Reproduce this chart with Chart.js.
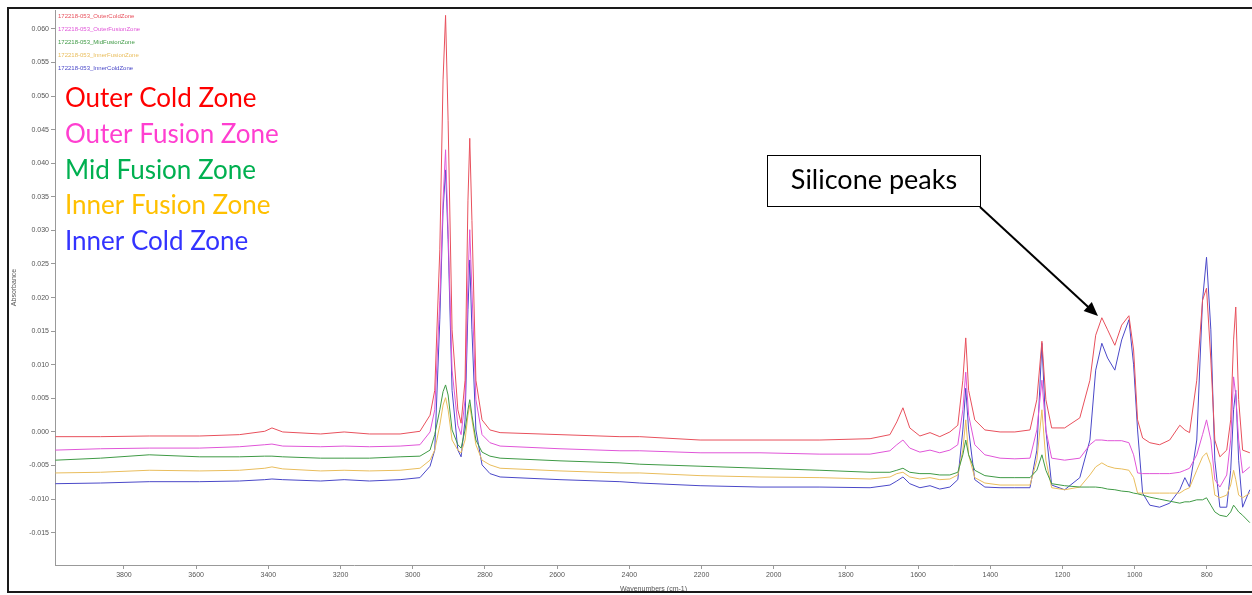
<!DOCTYPE html>
<html>
<head>
<meta charset="utf-8">
<title>FTIR spectra</title>
<script src="https://cdn.jsdelivr.net/npm/chart.js@4.4.0/dist/chart.umd.min.js"></script>
<style>
  html, body { margin: 0; padding: 0; background: #fff; }
  #wrap { width: 1252px; height: 595px; position: relative; }
</style>
</head>
<body>
<div id="wrap"><canvas id="chartFtir"></canvas></div>
<script>
// wavenumbers (cm-1), shared by all five spectra
const wavenumbers = [3990, 3865, 3730, 3590, 3480, 3410, 3390, 3360, 3255, 3190, 3120, 3035, 2980, 2952, 2939, 2925, 2916, 2909, 2902, 2891,
  2875, 2866, 2855, 2847, 2842, 2836, 2825, 2808, 2786, 2758, 2592, 2426, 2371, 2204, 2038, 1872, 1733, 1678, 1659, 1642,
  1623, 1595, 1567, 1540, 1512, 1490, 1476, 1468, 1460, 1443, 1415, 1373, 1332, 1290, 1271, 1257, 1246, 1230, 1194, 1152,
  1124, 1108, 1091, 1075, 1055, 1036, 1016, 1003, 992, 978, 958, 931, 903, 875, 861, 848, 828, 812, 801, 789,
  778, 764, 745, 734, 726, 720, 712, 701, 681];

const outerCold = [-0.0007, -0.0007, -0.0006, -0.0006, -0.0004, 0.0001, 0.0006, 0.0000, -0.0003, 0.0000, -0.0003, -0.0003, 0.0001, 0.0025, 0.0062, 0.0271, 0.0524, 0.0620, 0.0464, 0.0152,
  0.0033, 0.0013, 0.0077, 0.0345, 0.0437, 0.0315, 0.0077, 0.0018, 0.0003, -0.0001, -0.0004, -0.0007, -0.0007, -0.0012, -0.0012, -0.0012, -0.0010, -0.0004, 0.0015, 0.0036,
  0.0006, -0.0006, -0.0001, -0.0007, 0.0000, 0.0010, 0.0077, 0.0140, 0.0062, 0.0018, 0.0003, 0.0000, 0.0000, 0.0003, 0.0048, 0.0135, 0.0048, 0.0006, 0.0006, 0.0021,
  0.0077, 0.0144, 0.0170, 0.0152, 0.0129, 0.0159, 0.0173, 0.0122, 0.0018, -0.0009, -0.0016, -0.0019, -0.0012, 0.0010, 0.0003, -0.0001, 0.0077, 0.0196, 0.0214, 0.0107,
  -0.0012, -0.0037, -0.0027, 0.0018, 0.0137, 0.0186, 0.0048, -0.0027, -0.0031];

const outerFusion = [-0.0027, -0.0025, -0.0024, -0.0024, -0.0022, -0.0019, -0.0018, -0.0021, -0.0022, -0.0021, -0.0022, -0.0021, -0.0019, 0.0000, 0.0033, 0.0196, 0.0345, 0.0420, 0.0301, 0.0092,
  0.0010, -0.0004, 0.0048, 0.0226, 0.0301, 0.0211, 0.0048, -0.0004, -0.0016, -0.0021, -0.0025, -0.0028, -0.0028, -0.0031, -0.0031, -0.0033, -0.0033, -0.0028, -0.0019, -0.0012,
  -0.0024, -0.0030, -0.0027, -0.0031, -0.0027, -0.0019, 0.0033, 0.0089, 0.0025, -0.0019, -0.0034, -0.0039, -0.0040, -0.0039, 0.0003, 0.0077, 0.0003, -0.0039, -0.0042, -0.0039,
  -0.0019, -0.0012, -0.0012, -0.0013, -0.0013, -0.0013, -0.0016, -0.0034, -0.0061, -0.0062, -0.0062, -0.0062, -0.0062, -0.0060, -0.0057, -0.0054, -0.0034, -0.0004, 0.0018, -0.0012,
  -0.0071, -0.0082, -0.0064, -0.0012, 0.0082, 0.0055, -0.0012, -0.0061, -0.0052];

const midFusion = [-0.0042, -0.0039, -0.0034, -0.0037, -0.0037, -0.0036, -0.0036, -0.0037, -0.0039, -0.0039, -0.0039, -0.0037, -0.0036, -0.0027, -0.0004, 0.0033, 0.0060, 0.0070, 0.0055, 0.0003,
  -0.0019, -0.0024, 0.0003, 0.0033, 0.0048, 0.0025, -0.0012, -0.0030, -0.0036, -0.0039, -0.0043, -0.0046, -0.0048, -0.0051, -0.0054, -0.0057, -0.0060, -0.0060, -0.0057, -0.0054,
  -0.0060, -0.0062, -0.0062, -0.0064, -0.0064, -0.0060, -0.0034, -0.0012, -0.0034, -0.0057, -0.0065, -0.0068, -0.0068, -0.0068, -0.0057, -0.0034, -0.0057, -0.0077, -0.0080, -0.0082,
  -0.0082, -0.0082, -0.0083, -0.0085, -0.0086, -0.0088, -0.0089, -0.0091, -0.0092, -0.0094, -0.0097, -0.0100, -0.0103, -0.0106, -0.0104, -0.0104, -0.0101, -0.0101, -0.0098, -0.0109,
  -0.0119, -0.0124, -0.0126, -0.0119, -0.0109, -0.0113, -0.0119, -0.0124, -0.0135];

const innerFusion = [-0.0061, -0.0060, -0.0057, -0.0058, -0.0057, -0.0054, -0.0052, -0.0055, -0.0058, -0.0057, -0.0058, -0.0057, -0.0054, -0.0042, -0.0027, 0.0010, 0.0040, 0.0051, 0.0033, -0.0012,
  -0.0027, -0.0031, -0.0012, 0.0025, 0.0040, 0.0018, -0.0019, -0.0042, -0.0049, -0.0054, -0.0058, -0.0061, -0.0061, -0.0065, -0.0067, -0.0068, -0.0070, -0.0067, -0.0062, -0.0060,
  -0.0067, -0.0070, -0.0068, -0.0071, -0.0070, -0.0064, -0.0027, 0.0018, -0.0034, -0.0068, -0.0076, -0.0079, -0.0079, -0.0079, -0.0042, 0.0033, -0.0042, -0.0083, -0.0086, -0.0082,
  -0.0064, -0.0052, -0.0046, -0.0051, -0.0054, -0.0055, -0.0057, -0.0068, -0.0091, -0.0091, -0.0091, -0.0091, -0.0091, -0.0091, -0.0086, -0.0083, -0.0057, -0.0037, -0.0031, -0.0049,
  -0.0094, -0.0098, -0.0094, -0.0079, -0.0057, -0.0071, -0.0094, -0.0098, -0.0091];

const innerCold = [-0.0077, -0.0076, -0.0074, -0.0074, -0.0073, -0.0071, -0.0070, -0.0071, -0.0073, -0.0071, -0.0073, -0.0071, -0.0068, -0.0051, -0.0027, 0.0167, 0.0330, 0.0390, 0.0286, 0.0062,
  -0.0027, -0.0037, 0.0018, 0.0182, 0.0256, 0.0152, 0.0003, -0.0049, -0.0062, -0.0067, -0.0071, -0.0074, -0.0076, -0.0080, -0.0082, -0.0082, -0.0083, -0.0079, -0.0073, -0.0067,
  -0.0077, -0.0083, -0.0080, -0.0085, -0.0082, -0.0071, 0.0003, 0.0065, 0.0003, -0.0071, -0.0082, -0.0083, -0.0083, -0.0083, -0.0027, 0.0132, 0.0003, -0.0079, -0.0086, -0.0068,
  -0.0012, 0.0092, 0.0132, 0.0110, 0.0092, 0.0137, 0.0167, 0.0100, 0.0003, -0.0091, -0.0109, -0.0112, -0.0106, -0.0086, -0.0068, -0.0082, -0.0012, 0.0196, 0.0260, 0.0152,
  -0.0042, -0.0112, -0.0112, -0.0057, 0.0033, 0.0062, -0.0042, -0.0112, -0.0086];

const fileNames = ["172218-053_OuterColdZone", "172218-053_OuterFusionZone", "172218-053_MidFusionZone", "172218-053_InnerFusionZone", "172218-053_InnerColdZone"];
const zoneNames = ["Outer Cold Zone", "Outer Fusion Zone", "Mid Fusion Zone", "Inner Fusion Zone", "Inner Cold Zone"];
const lineColors = ["#e8505c", "#e055d8", "#3f9a45", "#e9bd5c", "#4a48c8"];
const zoneColors = ["#ff0000", "#ff3fd0", "#00b050", "#ffc000", "#3333ff"];
const xTicks = [3800, 3600, 3400, 3200, 3000, 2800, 2600, 2400, 2200, 2000, 1800, 1600, 1400, 1200, 1000, 800];
const yTicks = [0.060, 0.055, 0.050, 0.045, 0.040, 0.035, 0.030, 0.025, 0.020, 0.015, 0.010, 0.005, 0.000, -0.005, -0.010, -0.015];
const calloutText = "Silicone peaks";

const allSeries = [outerCold, outerFusion, midFusion, innerFusion, innerCold];

function toPoints(values) {
  return values.map((v, i) => ({ x: wavenumbers[i], y: v }));
}

// frame, little file legend, coloured zone names and the callout
const notesPlugin = {
  id: 'notes',
  afterDraw(chart) {
    const ctx = chart.ctx;
    const area = chart.chartArea;
    ctx.save();

    ctx.strokeStyle = '#1a1a1a';
    ctx.lineWidth = 2;
    ctx.beginPath();
    ctx.moveTo(1252, 8);
    ctx.lineTo(8, 8);
    ctx.lineTo(8, 592);
    ctx.lineTo(1252, 592);
    ctx.stroke();

    ctx.font = '6px "Liberation Sans", Arial, sans-serif';
    ctx.textBaseline = 'middle';
    ctx.textAlign = 'left';
    fileNames.forEach((name, i) => {
      ctx.fillStyle = lineColors[i];
      ctx.fillText(name, area.left + 3, 16 + i * 13);
    });

    ctx.font = '26px Lato, "Open Sans", sans-serif';
    zoneNames.forEach((name, i) => {
      ctx.fillStyle = zoneColors[i];
      ctx.fillText(name, 65, 99 + i * 35.7);
    });

    // callout box
    ctx.fillStyle = '#fff';
    ctx.fillRect(767, 155, 213, 51);
    ctx.strokeStyle = '#000';
    ctx.lineWidth = 1;
    ctx.strokeRect(767.5, 155.5, 213, 51);
    ctx.fillStyle = '#000';
    ctx.textAlign = 'center';
    ctx.font = '27px Lato, "Open Sans", sans-serif';
    ctx.fillText(calloutText, 874, 180);

    // arrow pointing at the silicone band
    const x0 = 980, y0 = 207, x1 = 1098, y1 = 316;
    const ang = Math.atan2(y1 - y0, x1 - x0);
    ctx.lineWidth = 2;
    ctx.beginPath();
    ctx.moveTo(x0, y0);
    ctx.lineTo(x1 - 10 * Math.cos(ang), y1 - 10 * Math.sin(ang));
    ctx.stroke();
    ctx.beginPath();
    ctx.moveTo(x1, y1);
    ctx.lineTo(x1 - 14 * Math.cos(ang) + 6 * Math.sin(ang), y1 - 14 * Math.sin(ang) - 6 * Math.cos(ang));
    ctx.lineTo(x1 - 14 * Math.cos(ang) - 6 * Math.sin(ang), y1 - 14 * Math.sin(ang) + 6 * Math.cos(ang));
    ctx.closePath();
    ctx.fill();

    ctx.restore();
  }
};

const tickFont = { family: '"Liberation Sans", Arial, sans-serif', size: 7 };

const chartFtir = new Chart(document.querySelector('#chartFtir').getContext('2d'), {
  type: 'line',
  data: {
    datasets: allSeries.map((vals, i) => ({
      label: fileNames[i],
      data: toPoints(vals),
      borderColor: lineColors[i],
      backgroundColor: 'transparent',
      borderWidth: 1,
      pointRadius: 0,
      tension: 0
    }))
  },
  options: {
    responsive: true,
    maintainAspectRatio: false,
    animation: false,
    devicePixelRatio: 1,
    layout: { padding: { left: 0, right: 0, top: 10, bottom: 0 } },
    plugins: {
      legend: { display: false },
      tooltip: { enabled: false }
    },
    scales: {
      x: {
        type: 'linear',
        reverse: true,
        min: 675,
        max: 3991,
        afterBuildTicks: (axis) => { axis.ticks = xTicks.map(v => ({ value: v })); },
        afterFit: (axis) => { axis.height = 30; },
        grid: { drawOnChartArea: false, drawTicks: true, tickLength: 4, color: '#999' },
        border: { color: '#999' },
        ticks: { font: tickFont, color: '#555', padding: 2, maxRotation: 0, autoSkip: false, callback: (v) => String(v) },
        title: { display: true, text: 'Wavenumbers (cm-1)', font: tickFont, color: '#555', padding: { top: 0, bottom: 2 } }
      },
      y: {
        type: 'linear',
        min: -0.0198,
        max: 0.0628,
        afterBuildTicks: (axis) => { axis.ticks = yTicks.map(v => ({ value: v })); },
        afterFit: (axis) => { axis.width = 55; },
        grid: { drawOnChartArea: false, drawTicks: true, tickLength: 4, color: '#999' },
        border: { color: '#999' },
        ticks: { font: tickFont, color: '#555', padding: 2, autoSkip: false, callback: (v) => v.toFixed(3) },
        title: { display: true, text: 'Absorbance', font: tickFont, color: '#555', padding: { top: 10, bottom: 0 } }
      }
    }
  },
  plugins: [notesPlugin]
});
</script>
</body>
</html>
